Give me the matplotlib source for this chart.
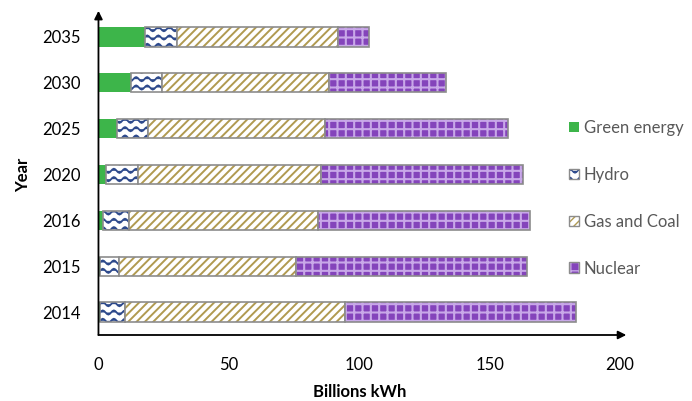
import warnings
import numpy as np
import matplotlib
matplotlib.use("Agg")
import matplotlib.pyplot as plt
from matplotlib.path import Path
from matplotlib.patches import Patch
from matplotlib.legend_handler import HandlerTuple
from matplotlib import hatch as mhatch

warnings.filterwarnings("ignore")

years = ["2014", "2015", "2016", "2020", "2025", "2030", "2035"]
green = [0.5, 0.5, 1.8, 2.9, 7.0, 12.3, 18.0]
hydro = [9.8, 7.5, 9.9, 12.4, 12.1, 12.0, 12.2]
gas_coal = [84.1, 67.8, 72.3, 70.0, 67.6, 64.2, 61.5]
nuclear = [88.9, 88.4, 81.4, 77.5, 70.5, 44.8, 11.9]


# wavy hatch for hydro (not built into matplotlib)
class WaveHatch(mhatch.HatchPatternBase):
    def __init__(self, hatch, density):
        self.num_rows = int(hatch.count('w') * density)
        self.k = 9
        self.npts = self.k * 8 + 1
        self.num_vertices = self.num_rows * self.npts

    def set_vertices_and_codes(self, vertices, codes):
        xs = np.linspace(0.0, 1.0, self.npts)
        step = 1.0 / max(self.num_rows, 1)
        amp = 0.25 * step
        for i in range(self.num_rows):
            y0 = (i + 0.5) * step
            sl = slice(i * self.npts, (i + 1) * self.npts)
            vertices[sl, 0] = xs
            vertices[sl, 1] = y0 + amp * np.sin(2 * np.pi * self.k * xs)
            codes[sl] = Path.LINETO
            codes[i * self.npts] = Path.MOVETO


mhatch._hatch_types.append(WaveHatch)

plt.rcParams['font.family'] = ['Lato', 'DejaVu Sans']

fig = plt.figure(figsize=(6.92, 4.01), dpi=100)
ax = fig.add_axes([0.1423, 0.1646, 0.896 - 0.1423, 0.965 - 0.1646])

y = np.arange(len(years))
h = 0.42
border = '#8c8c8c'

styles = [
    ("Green energy", green, dict(color='#3db54a', edgecolor='none'), 1.0),
    ("Hydro", hydro, dict(color='white', edgecolor='#2e4a8c', hatch='ww'), 1.3),
    ("Gas and Coal", gas_coal, dict(color='white', edgecolor='#b09a50', hatch='////'), 1.4),
    ("Nuclear", nuclear, dict(color='#8444bb', edgecolor='#c8a8e8', hatch='++'), 1.5),
]

left = np.zeros(len(years))
handles = []
for name, vals, st, hlw in styles:
    with plt.rc_context({'hatch.linewidth': hlw}):
        ax.barh(y, vals, height=h, left=left, linewidth=0, **st)
        hp = Patch(facecolor=st['color'], edgecolor=st['edgecolor'],
                   hatch=st.get('hatch'), linewidth=0)
    if name != "Green energy":
        ax.barh(y, vals, height=h, left=left, color='none',
                edgecolor=border, linewidth=1.2)
        handles.append((hp, Patch(facecolor='none', edgecolor=border, linewidth=1.0)))
    else:
        handles.append(hp)
    left = left + np.array(vals)

ax.set_xlim(0, 200)
ax.set_ylim(-0.5, len(years) - 0.5)
ax.set_xticks([0, 50, 100, 150, 200])
ax.set_yticks(y)
ax.set_yticklabels(years)
ax.tick_params(axis='both', length=0, labelsize=12)
ax.tick_params(axis='x', pad=16)
ax.tick_params(axis='y', pad=13)
for s in ax.spines.values():
    s.set_visible(False)

# axes with arrow heads
ax.annotate('', xy=(1.012, 0), xytext=(0, 0), xycoords='axes fraction',
            arrowprops=dict(arrowstyle='-|>', color='black', lw=1.3,
                            mutation_scale=12, shrinkA=0, shrinkB=0))
ax.annotate('', xy=(0, 1.01), xytext=(0, 0), xycoords='axes fraction',
            arrowprops=dict(arrowstyle='-|>', color='black', lw=1.3,
                            mutation_scale=12, shrinkA=0, shrinkB=0))

ax.set_xlabel("Billions kWh", fontsize=12, fontweight='bold', labelpad=8)
ax.set_ylabel("Year", fontsize=12, fontweight='bold', labelpad=8)

labels = [s[0] for s in styles]
leg = ax.legend(handles=handles, labels=labels, loc='upper left',
                bbox_to_anchor=(0.8, 0.738), bbox_transform=fig.transFigure,
                frameon=False, fontsize=12, handlelength=0.6, handleheight=0.6,
                handletextpad=0.3, labelspacing=1.85, labelcolor='#595959',
                handler_map={tuple: HandlerTuple(ndivide=1, pad=0)})

fig.savefig("out.png", dpi=100)
